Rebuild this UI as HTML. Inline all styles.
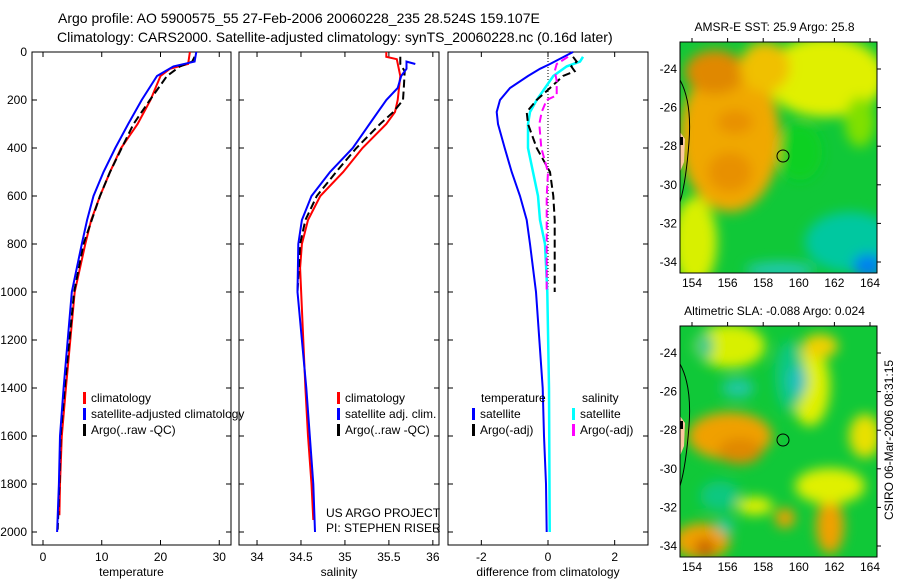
<!DOCTYPE html>
<html><head><meta charset="utf-8"><style>
body{margin:0;background:#fff;}
svg{display:block;font-family:"Liberation Sans",sans-serif;}
</style></head><body>
<svg id="fig" width="900" height="580" viewBox="0 0 900 580">
<text x="58" y="23" font-size="14">Argo profile: AO 5900575_55 27-Feb-2006 20060228_235 28.524S 159.107E</text>
<text x="57" y="42" font-size="14">Climatology: CARS2000. Satellite-adjusted climatology: synTS_20060228.nc (0.16d later)</text>
<g id="plots"></g>
<g id="maps"></g>
<text transform="translate(893,440) rotate(-90)" font-size="12" text-anchor="middle">CSIRO 06-Mar-2006 08:31:15</text>
</svg>
<script>
// ---- data: depth (m) and values ----
const tDepthClim=[0,50,70,100,200,300,400,500,600,700,800,1000,1400,1600,1800,1930];
const tClim=[25.0,24.7,21.6,20.0,18.3,16.1,13.3,11.4,9.7,8.2,7.2,5.4,3.9,3.2,2.9,2.8];
const tDepthSat=[0,40,60,100,200,300,400,500,600,700,800,1000,1400,1600,1800,2000];
const tSat=[26.1,25.8,22.2,19.4,16.8,14.5,12.3,10.3,8.6,7.5,6.6,4.9,3.5,2.9,2.7,2.4];
const tDepthArgo=[20,40,60,100,200,300,400,500,600,800,1000,1400,1600,1800,1990];
const tArgo=[25.8,25.4,23.3,21.1,18.2,15.4,13.4,11.4,9.7,6.9,5.3,3.7,3.0,2.8,2.5];

const sDepthClim=[0,20,30,100,200,250,300,400,500,600,700,800,900,1400,1600,1800,1950];
const sClim=[35.47,35.47,35.59,35.63,35.6,35.57,35.47,35.2,34.98,34.72,34.58,34.51,34.49,34.55,34.58,34.62,34.64];
const sDepthSat=[50,40,70,100,150,200,300,400,500,600,700,800,1000,1400,1600,1800,2000];
const sSat=[35.8,35.7,35.7,35.64,35.6,35.47,35.28,35.09,34.83,34.62,34.51,34.47,34.46,34.56,34.6,34.64,34.66];
const sDepthArgo=[20,50,80,150,200,250,300,400,500,600,700,800,1000];
const sArgo=[35.63,35.63,35.68,35.67,35.66,35.55,35.4,35.13,34.9,34.68,34.55,34.49,34.46];

const dDepthTSat=[0,50,70,100,150,200,250,300,400,500,600,700,800,900,1000,1400,1600,1800,2000];
const dTSat=[0.75,0.06,-0.24,-0.6,-1.14,-1.44,-1.54,-1.5,-1.3,-1.09,-0.84,-0.64,-0.54,-0.45,-0.36,-0.16,-0.12,-0.06,-0.04];
const dDepthSSat=[20,40,60,100,150,200,250,300,400,500,600,700,800,1000,1400,2000];
const dSSat=[1.05,0.96,0.56,0.16,-0.09,-0.34,-0.54,-0.6,-0.6,-0.45,-0.3,-0.24,-0.09,-0.02,0.03,0.05];
const dDepthTArgo=[20,40,60,80,100,150,200,250,300,400,500,600,700,800,1000];
const dTArgo=[0.75,0.86,0.7,0.8,0.45,0.06,-0.34,-0.64,-0.6,-0.34,0.06,0.16,0.2,0.2,0.2];
const dDepthSArgo=[20,50,80,120,180,200,250,300,400,500,600,800,1000];
const dSArgo=[0.6,0.26,0.2,0.26,0.26,-0.04,-0.19,-0.26,-0.2,0,-0.04,-0.04,-0.04];

const depthTicks=[0,200,400,600,800,1000,1200,1400,1600,1800,2000];
const tTicks=[0,10,20,30];
const sTicks=[34,34.5,35,35.5,36];
const dTicks=[-2,0,2];

const NS="http://www.w3.org/2000/svg";
function mk(tag,attrs,parent){const e=document.createElementNS(NS,tag);for(const k in attrs)e.setAttribute(k,attrs[k]);parent.appendChild(e);return e;}
const plots=document.getElementById('plots');
const TOP=52,BOT=545;
const yD=d=>TOP+0.24*d;

function panel(name,x0,x1,vmin,vmax,ticks,xlabel,showY){
  const g=mk('g',{},plots);
  
  
  const sx=v=>x0+(v-vmin)/(vmax-vmin)*(x1-x0);
  const r=mk('rect',{x:x0,y:TOP,width:x1-x0,height:BOT-TOP,fill:'none',stroke:'#000','stroke-width':1},g);
  
  
  ticks.forEach(t=>{const x=sx(t);
    mk('line',{x1:x,x2:x,y1:BOT,y2:BOT-5,stroke:'#000'},g);
    mk('line',{x1:x,x2:x,y1:TOP,y2:TOP+5,stroke:'#000'},g);
    const tx=mk('text',{x:x,y:BOT+16,'font-size':12,'text-anchor':'middle'},g);tx.textContent=t;
    
    });
  depthTicks.forEach(d=>{const y=yD(d);
    mk('line',{x1:x0,x2:x0+5,y1:y,y2:y,stroke:'#000'},g);
    mk('line',{x1:x1,x2:x1-5,y1:y,y2:y,stroke:'#000'},g);
    if(showY){const tx=mk('text',{x:x0-5,y:y+4,'font-size':12,'text-anchor':'end'},g);tx.textContent=d;
      
      }});
  const xl=mk('text',{x:(x0+x1)/2,y:BOT+31,'font-size':12,'text-anchor':'middle'},g);xl.textContent=xlabel;
  
  
  return {g,sx};
}
function series(p,depths,vals,color,w,dash,nm){
  const pts=depths.map((d,i)=>p.sx(vals[i]).toFixed(1)+','+yD(d).toFixed(1)).join(' ');
  const a={points:pts,fill:'none',stroke:color,'stroke-width':w};
  if(dash)a['stroke-dasharray']=dash;
  const l=mk('polyline',a,p.g);
  
  
}
function legend(g,x,y,items,nm){
  items.forEach((it,i)=>{const yy=y+i*16;
    mk('rect',{x:x,y:yy-10,width:3,height:12,fill:it[1]},g);
    const t=mk('text',{x:x+8,y:yy,'font-size':12},g);t.textContent=it[0];
    
    });
}
const p1=panel('temperature',32,231,-1.87,32.0,tTicks,'temperature',true);
series(p1,tDepthClim,tClim,'#f00',2,null,'temp-climatology-line');
series(p1,tDepthArgo,tArgo,'#000',2,'8,4','temp-argo-line');
series(p1,tDepthSat,tSat,'#00f',2,null,'temp-satellite-line');
legend(p1.g,83,402,[['climatology','#f00'],['satellite-adjusted climatology','#00f'],['Argo(..raw -QC)','#000']],'temp-legend');

const p2=panel('salinity',239,439,33.795,36.07,sTicks,'salinity',false);
series(p2,sDepthClim,sClim,'#f00',2,null,'sal-climatology-line');
series(p2,sDepthArgo,sArgo,'#000',2,'8,4','sal-argo-line');
series(p2,sDepthSat,sSat,'#00f',2,null,'sal-satellite-line');
legend(p2.g,337,402,[['climatology','#f00'],['satellite adj. clim.','#00f'],['Argo(..raw -QC)','#000']],'sal-legend');
let t1=mk('text',{x:326,y:517,'font-size':12},p2.g);t1.textContent='US ARGO PROJECT';

let t2=mk('text',{x:326,y:532,'font-size':12},p2.g);t2.textContent='PI: STEPHEN RISER';


const p3=panel('difference',448,648,-3,3,dTicks,'difference from climatology',false);
mk('line',{x1:p3.sx(0),x2:p3.sx(0),y1:TOP,y2:yD(1000),stroke:'#000','stroke-dasharray':'1,2'},p3.g);
series(p3,dDepthTSat,dTSat,'#00f',2,null,'diff-temp-satellite-line');
series(p3,dDepthSSat,dSSat,'#0ff',2.5,null,'diff-sal-satellite-line');
series(p3,dDepthTArgo,dTArgo,'#000',2,'8,4','diff-temp-argo-line');
series(p3,dDepthSArgo,dSArgo,'#f0f',2,'8,4','diff-sal-argo-line');
let lt=mk('text',{x:481,y:402,'font-size':12},p3.g);lt.textContent='temperature';

let ls=mk('text',{x:582,y:402,'font-size':12},p3.g);ls.textContent='salinity';

legend(p3.g,472,418,[['satellite','#00f'],['Argo(-adj)','#000']],'diff-temp-legend');
legend(p3.g,572,418,[['satellite','#0ff'],['Argo(-adj)','#f0f']],'diff-sal-legend');

// ---- maps ----
const maps=document.getElementById('maps');
const latTicks=[-24,-26,-28,-30,-32,-34];
const lonTicks=[154,156,158,160,162,164];
const sstBlobs=[[50,95,50,75,'#f0a800'],[35,30,30,22,'#e08800'],[50,130,22,20,'#e89000'],[55,80,18,12,'#e89000'],[145,35,60,40,'#e0f000'],[120,110,22,28,'#10d020'],[85,25,25,25,'#f0c000'],[15,200,22,45,'#d8f000'],[170,200,45,30,'#00c8a0'],[188,224,15,12,'#0080f0'],[100,228,35,8,'#20c8b0'],[180,80,15,25,'#80e000']];
const slaBlobs=[[50,20,35,22,'#d8f000'],[130,60,20,40,'#e0f000'],[140,20,18,12,'#f0d000'],[50,110,42,24,'#f0a000'],[60,125,22,13,'#e08800'],[22,215,28,18,'#f0a000'],[25,222,10,9,'#c86000'],[150,200,14,28,'#f0a000'],[105,192,10,10,'#f0a000'],[150,160,35,18,'#e0f000'],[185,110,16,22,'#e8e000'],[110,50,15,35,'#10c880'],[58,62,16,10,'#20c8a0'],[118,55,9,15,'#20c0c0'],[25,20,8,13,'#20c890'],[40,170,20,15,'#10c880'],[45,200,8,8,'#20c8a0'],[75,180,18,9,'#e0f000']];
function drawMap(y0,title,blobs,nm){
  const x0=680,w=197,h=231;
  const g=mk('g',{},maps);
  
  
  const cp=mk('clipPath',{id:'c'+nm},g);mk('rect',{x:x0,y:y0,width:w,height:h},cp);
  const inner=mk('g',{'clip-path':'url(#c'+nm+')'},g);
  mk('rect',{x:x0,y:y0,width:w,height:h,fill:'#10c838'},inner);
  const bg=mk('g',{filter:'url(#blur)'},inner);
  blobs.forEach(b=>mk('ellipse',{cx:x0+b[0],cy:y0+b[1],rx:b[2],ry:b[3],fill:b[4]},bg));
  mk('path',{d:`M${x0} ${y0+90} L${x0+5} ${y0+97} L${x0+4} ${y0+120} L${x0} ${y0+130} Z`,fill:'#fcc8a0'},inner);
  mk('path',{d:`M${x0} ${y0+38} Q${x0+12} ${y0+60} ${x0+9} ${y0+100} Q${x0+6} ${y0+140} ${x0} ${y0+160}`,fill:'none',stroke:'#000'},inner);
  mk('rect',{x:x0,y:y0+95,width:3,height:8,fill:'#000'},inner);
  mk('rect',{x:x0,y:y0,width:w,height:h,fill:'none',stroke:'#000'},g);
  const c=mk('circle',{cx:783,cy:y0+114,r:6,fill:'none',stroke:'#000'},g);
  
  
  latTicks.forEach(l=>{const y=y0+27+(-24-l)*19.3;
    mk('line',{x1:x0+w,x2:x0+w+4,y1:y,y2:y,stroke:'#000'},g);
    const t=mk('text',{x:x0-3,y:y+4,'font-size':12,'text-anchor':'end'},g);t.textContent=l;
    
    });
  lonTicks.forEach(l=>{const x=692+(l-154)*17.8;
    mk('line',{x1:x,x2:x,y1:y0,y2:y0-4,stroke:'#000'},g);
    const t=mk('text',{x:x,y:y0+h+14,'font-size':12,'text-anchor':'middle'},g);t.textContent=l;
    
    });
  const tt=mk('text',{x:x0+w/2-4,y:y0-11,'font-size':12,'text-anchor':'middle'},g);tt.textContent=title;
  
  
}
const defs=mk('defs',{},maps);
const f=mk('filter',{id:'blur',x:'-20%',y:'-20%',width:'140%',height:'140%'},defs);
mk('feGaussianBlur',{stdDeviation:6},f);
drawMap(42,'AMSR-E SST: 25.9 Argo: 25.8',sstBlobs,'sst-map');
drawMap(326,'Altimetric SLA: -0.088 Argo: 0.024',slaBlobs,'sla-map');
</script>
</body></html>
